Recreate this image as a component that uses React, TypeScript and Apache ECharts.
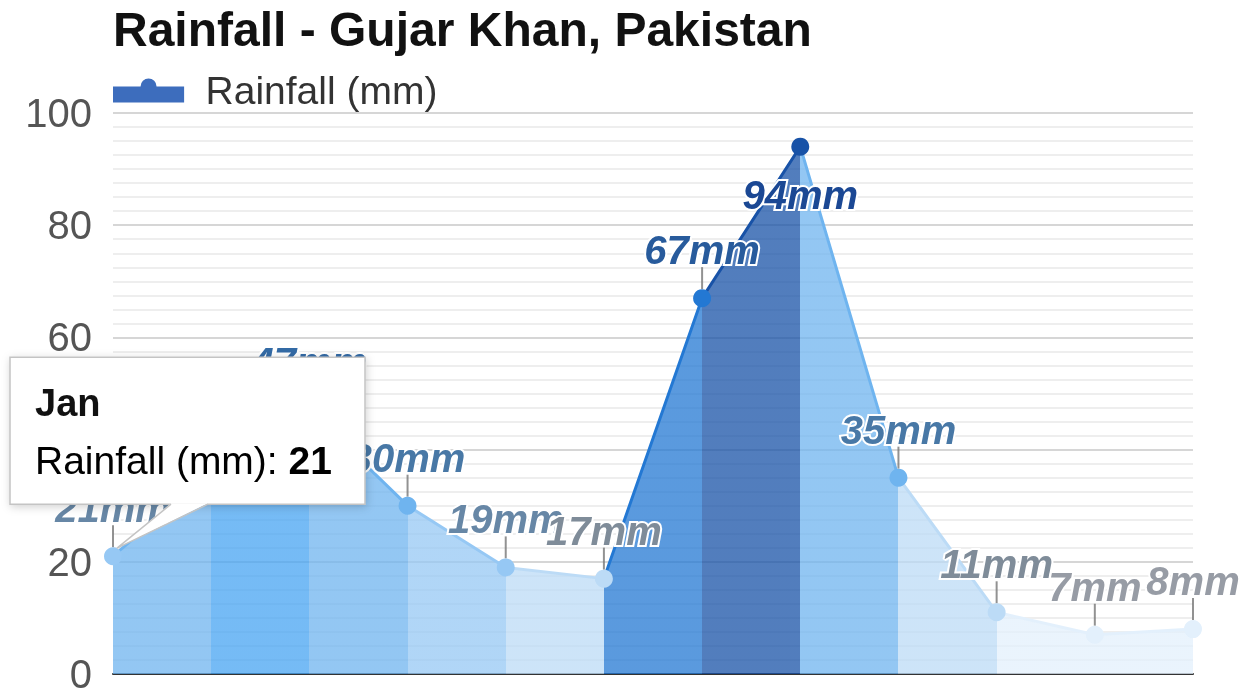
import React, { useEffect, useRef } from 'react';
import * as echarts from 'echarts';

const chartTitle = 'Rainfall - Gujar Khan, Pakistan';
const seriesName = 'Rainfall (mm)';
const months = ['Jan', 'Feb', 'Mar', 'Apr', 'May', 'Jun', 'Jul', 'Aug', 'Sep', 'Oct', 'Nov', 'Dec'];
const rainfall = [21, 36, 47, 30, 19, 17, 67, 94, 35, 11, 7, 8];
const yMin = 0;
const yMax = 100;
const yInterval = 20;
const tooltipIndex = 0;

function fillColor(v: number): string {
  if (v >= 80) return '#1852a7';
  if (v >= 60) return '#2378d3';
  if (v >= 40) return '#47a4f2';
  if (v >= 25) return '#6fb4ef';
  if (v >= 18) return '#96c8f4';
  if (v >= 10) return '#bcdbf6';
  return '#e3f0fc';
}

function labelColor(v: number): string {
  if (v >= 80) return '#1b4894';
  if (v >= 60) return '#285b9c';
  if (v >= 40) return '#336aa5';
  if (v >= 25) return '#4878a6';
  if (v >= 18) return '#6787a6';
  if (v >= 10) return '#7f8c99';
  return '#979ca5';
}

const FONT = '"Liberation Sans", Arial, Helvetica, sans-serif';

export default function App() {
  const ref = useRef<HTMLDivElement>(null);
  useEffect(() => {
    const chart = echarts.init(ref.current as HTMLDivElement, null, { renderer: 'svg' });
    const pieces = rainfall.map((v, i) =>
      i === 0 ? { lte: 0, color: fillColor(v) } : { gt: i - 1, lte: i, color: fillColor(v) }
    );
    chart.setOption({
      animation: false,
      textStyle: { fontFamily: FONT },
      title: {
        text: chartTitle,
        left: 108,
        top: 0,
        textStyle: { fontFamily: FONT, fontSize: 48, fontWeight: 'bold', color: '#111' },
      },
      legend: {
        left: 108,
        top: 66,
        data: [{ name: seriesName }],
        icon: 'path://M0,6 L80,6 L80,24 L0,24 Z M31,6 A9,9 0 0,1 49,6 Z',
        itemWidth: 80,
        itemHeight: 24,
        itemStyle: { color: '#3d6dbd' },
        textStyle: { fontFamily: FONT, fontSize: 39, color: '#333', padding: [0, 0, 0, 12] },
        selectedMode: false,
      },
      grid: { left: 113, right: 59, top: 113, bottom: 17, containLabel: false },
      visualMap: {
        type: 'piecewise',
        show: false,
        dimension: 0,
        seriesIndex: 0,
        pieces,
      },
      xAxis: {
        type: 'category',
        data: months,
        boundaryGap: false,
        axisLine: { lineStyle: { color: '#333', width: 2 } },
        axisTick: { show: false },
        axisLabel: { show: false },
        splitLine: { show: false },
      },
      yAxis: {
        type: 'value',
        min: yMin,
        max: yMax,
        interval: yInterval,
        axisLine: { show: false },
        axisTick: { show: false },
        axisLabel: { fontFamily: FONT, fontSize: 40, color: '#555', margin: 21 },
        splitLine: { lineStyle: { color: '#d6d6d6', width: 2 } },
        minorTick: { show: false, splitNumber: 8 },
        minorSplitLine: { show: true, lineStyle: { color: '#eeeeee', width: 2 } },
      },
      series: [
        {
          name: seriesName,
          type: 'line',
          z: 3,
          symbol: 'circle',
          symbolSize: 18,
          lineStyle: { width: 3 },
          areaStyle: { opacity: 0.75 },
          emphasis: { disabled: true },
          data: rainfall.map((v) => ({
            value: v,
            label: {
              show: true,
              position: v > 85 ? 'bottom' : 'top',
              distance: v > 85 ? 19 : 19,
              formatter: `${v}mm`,
              fontFamily: FONT,
              fontSize: 40,
              fontWeight: 'bold',
              fontStyle: 'italic',
              color: labelColor(v),
              textBorderColor: '#ffffff',
              textBorderWidth: 4,
            },
          })),
        },
        {
          name: 'pins',
          type: 'scatter',
          z: 2,
          silent: true,
          symbol: 'rect',
          symbolSize: [2, 22],
          symbolOffset: [0, -20],
          itemStyle: { color: '#777' },
          data: rainfall.map((v) => (v > 85 ? '-' : v)),
        },
      ],
    });

    const [px, py] = chart.convertToPixel({ seriesIndex: 0 }, [tooltipIndex, rainfall[tooltipIndex]]) as number[];
    const boxL = px - 103;
    const boxT = py - 199;
    const boxW = 355;
    const boxH = 147;
    chart.setOption({
      graphic: [
        {
          type: 'rect',
          z: 100,
          shape: { x: boxL, y: boxT, width: boxW, height: boxH },
          style: {
            fill: '#ffffff',
            stroke: '#c4c4c4',
            lineWidth: 1.5,
            shadowBlur: 8,
            shadowColor: 'rgba(0,0,0,0.18)',
            shadowOffsetX: 1,
            shadowOffsetY: 2,
          },
        },
        {
          type: 'polygon',
          z: 101,
          shape: { points: [[px + 58, boxT + boxH - 1], [px + 95, boxT + boxH - 1], [px + 4, py - 8]] },
          style: { fill: '#ffffff' },
        },
        {
          type: 'polyline',
          z: 101,
          shape: { points: [[px + 58, boxT + boxH], [px + 4, py - 8], [px + 95, boxT + boxH]] },
          style: { stroke: '#c4c4c4', lineWidth: 1.5, fill: 'none' },
        },
        {
          type: 'text',
          z: 102,
          x: boxL + 25,
          y: boxT + 46,
          style: {
            text: months[tooltipIndex],
            fontFamily: FONT,
            fontSize: 38,
            fontWeight: 'bold',
            fill: '#111',
            verticalAlign: 'middle',
          },
        },
        {
          type: 'text',
          z: 102,
          x: boxL + 25,
          y: boxT + 103,
          style: {
            text: `{n|${seriesName}: }{b|${rainfall[tooltipIndex]}}`,
            verticalAlign: 'middle',
            rich: {
              n: { fontFamily: FONT, fontSize: 39, color: '#222' },
              b: { fontFamily: FONT, fontSize: 39, fontWeight: 'bold', color: '#111' },
            },
          },
        },
      ],
    });

    return () => chart.dispose();
  }, []);
  return <div ref={ref} style={{ position: 'fixed', left: 0, top: 0, width: 1252, height: 694 }} />;
}
